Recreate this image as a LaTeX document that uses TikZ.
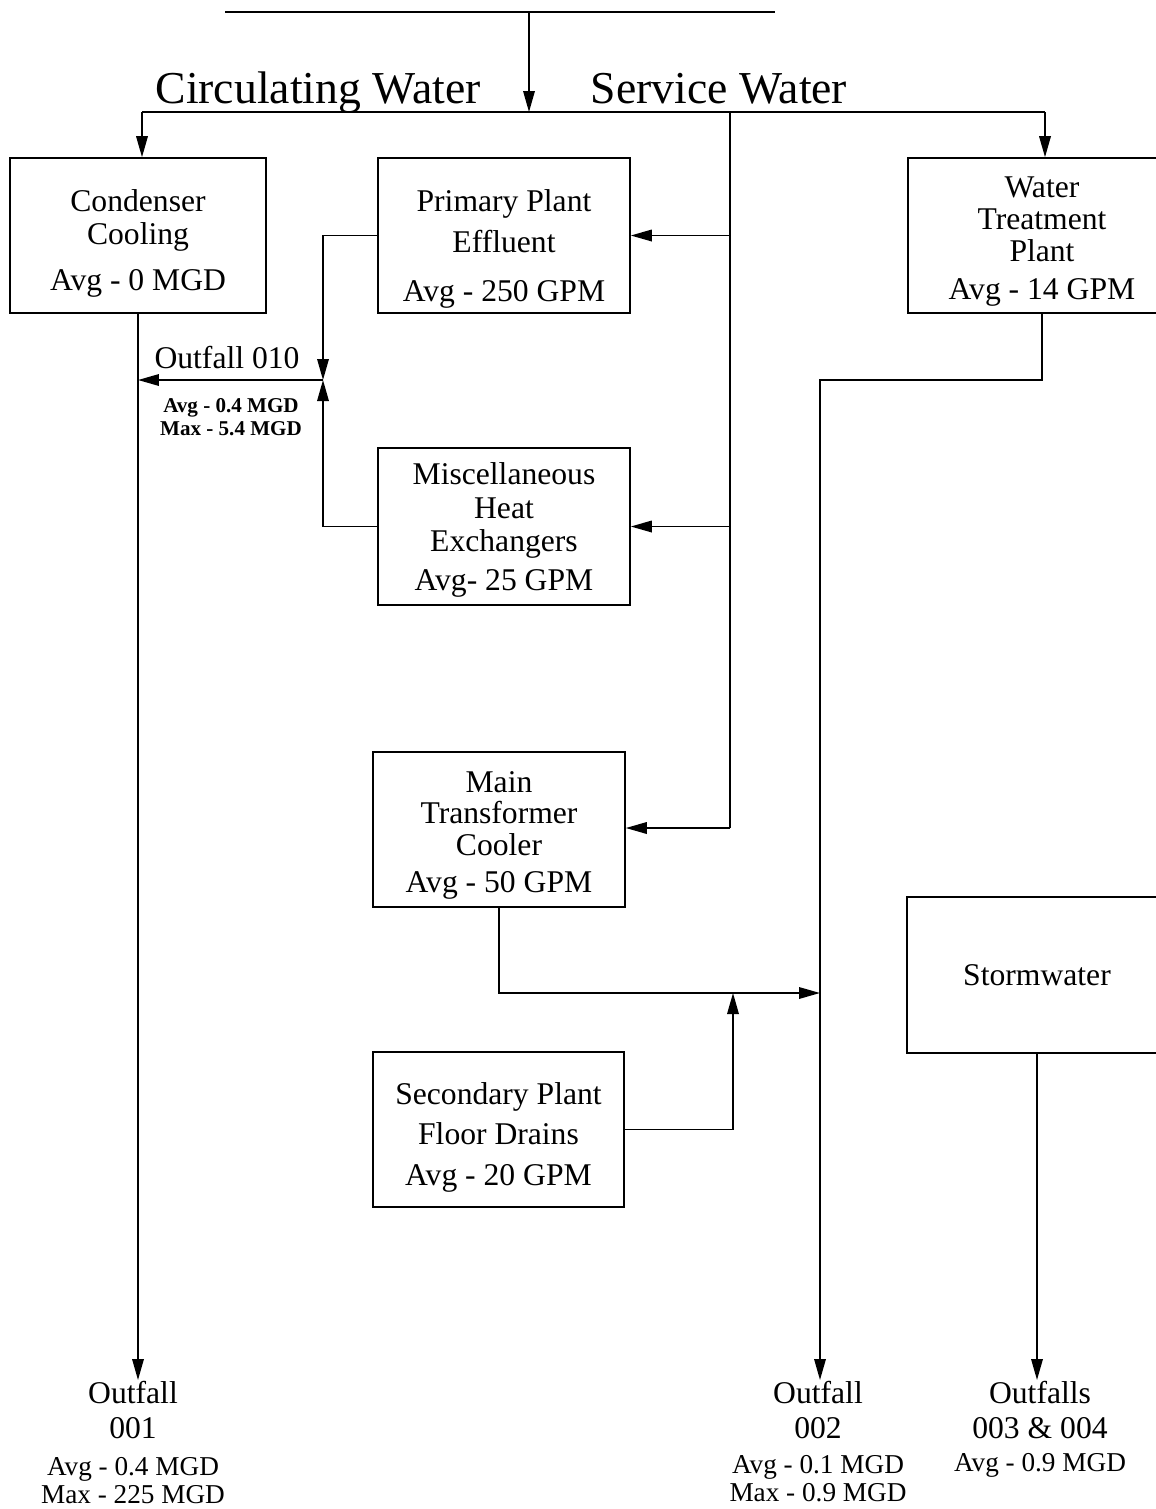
\documentclass[tikz,border=0pt]{standalone}
\usepackage{fontspec}
\setmainfont{Liberation Serif}
\usetikzlibrary{positioning,arrows.meta}
\tikzset{
  box/.style={draw, line width=0.9pt, inner sep=2pt, align=center, font=\fontsize{18}{18}\selectfont},
  arr/.style={-{Triangle[length=4.2mm,width=2.3mm]}},
  outl/.style={anchor=north, inner sep=0pt, align=center, font=\fontsize{18}{20}\selectfont}}
\newcommand{\sml}{\fontsize{15.5}{16}\selectfont}
\newcommand{\dn}[1]{\rule{0pt}{#1}}% pushes a box's text down
\begin{document}
\begin{tikzpicture}[x=0.02cm, y=-0.02cm, line width=1pt]
\useasboundingbox (0,0) rectangle (1156,1509);
\clip (0,0) rectangle (1156,1509);
% boxes
\node[box, minimum width=5.12cm, minimum height=3.1cm] (cond) at (138,235.5) {\dn{21.5pt}Condenser\\[1pt]Cooling\\[8pt]Avg - 0 MGD};
\node[box, minimum width=5.04cm, minimum height=3.1cm] (ppe) at (504,235.5) {\dn{28pt}Primary Plant\\[5pt]Effluent\\[10pt]Avg - 250 GPM};
\node[box, minimum width=5.36cm, minimum height=3.1cm] (wtp) at (1042,235.5) {\dn{19pt}Water\\Treatment\\Plant\\[4pt]Avg - 14 GPM};
\node[box, minimum width=5.04cm, minimum height=3.14cm] (misc) at (504,526.5) {\dn{16.3pt}Miscellaneous\\[1pt]Heat\\[1pt]Exchangers\\[4pt]Avg- 25 GPM};
\node[box, minimum width=5.04cm, minimum height=3.1cm] (mtc) at (499,829.5) {\dn{18.5pt}Main\\Transformer\\Cooler\\[3pt]Avg - 50 GPM};
\node[box, minimum width=5.02cm, minimum height=3.1cm] (spfd) at (498.5,1129.5) {\dn{21.3pt}Secondary Plant\\[5pt]Floor Drains\\[5pt]Avg - 20 GPM};
\node[box, minimum width=5.2cm, minimum height=3.12cm] (storm) at (1037,975) {Stormwater};
% labels
\node[anchor=base, font=\fontsize{26}{26}\selectfont] (cw) at (318,103) {Circulating Water};
\node[anchor=base, font=\fontsize{26}{26}\selectfont] (sw) at (719,103) {Service Water};
\node[anchor=base, font=\fontsize{18}{18}\selectfont] (o10) at (227,368) {Outfall 010};
\node[align=center, font=\bfseries\fontsize{12}{13}\selectfont] (o10v) at (231,417) {Avg - 0.4 MGD\\Max - 5.4 MGD};
\node[outl] (o001) at (133,1380) {Outfall\\001\\[1pt]{\sml Avg - 0.4 MGD}\\[-4pt]{\sml Max - 225 MGD}};
\node[outl] (o002) at (818,1380) {Outfall\\002\\[0pt]{\sml Avg - 0.1 MGD}\\[-4pt]{\sml Max - 0.9 MGD}};
\node[outl] (o34) at (1040,1380) {Outfalls\\003 \& 004\\[-1pt]{\sml Avg - 0.9 MGD}};
% junction points
\coordinate (tl) at (225,12);
\coordinate (tr) at (775,12);
\coordinate (tm) at (529,12);
\coordinate (hub) at (529,112);
\coordinate (hl) at (142,112);
\coordinate (hr) at (1045,112);
\coordinate (sv) at (730,112);
\coordinate (s3) at (730,828);
\coordinate (j010) at (323,380);
\coordinate (k2) at (820,380);
\coordinate (m1) at (733,993);
\coordinate (m2) at (820,993);
% supply lines
\draw[line width=1.3pt] (tl) -- (tr);
\draw[arr] (tm) -- (hub);
\draw (hl) -- (hr);
\draw[arr] (hl) -- (hl |- cond.north);
\draw[arr] (hr) -- (hr |- wtp.north);
\draw (sv) -- (s3);
\draw[arr] (sv |- ppe.east) -- (ppe.east);
\draw[arr] (sv |- misc.east) -- (misc.east);
\draw[arr] (s3) -- (s3 -| mtc.east);
% discharge lines
\draw[arr] (ppe.west) -| (j010);
\draw[arr] (misc.west) -| (j010);
\draw[arr] (j010) -- (j010 -| cond.south);
\draw[arr] (cond.south) -- (cond.south |- o001.north);
\draw[arr] (wtp.south) |- (k2) -- (k2 |- o002.north);
\draw[arr] (mtc.south) |- (m2);
\draw[arr] (spfd.east) -| (m1);
\draw[arr] (storm.south) -- (storm.south |- o34.north);
\end{tikzpicture}
\end{document}
